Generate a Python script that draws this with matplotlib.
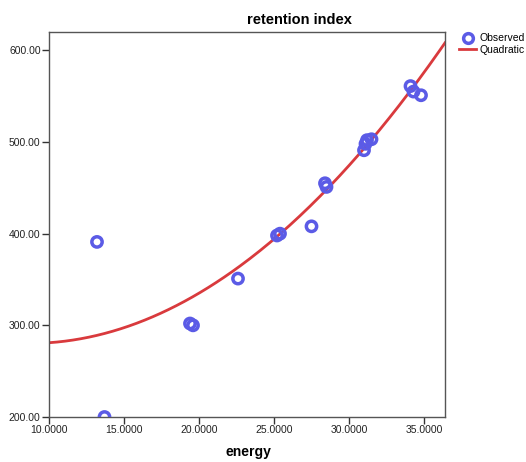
import numpy as np
import matplotlib
matplotlib.use("Agg")
from matplotlib import pyplot as plt
from matplotlib.lines import Line2D

plt.rcParams['font.family'] = ['Liberation Sans', 'DejaVu Sans']

energy = [13.2, 13.7, 19.4, 19.6, 22.6, 25.2, 25.4, 27.5, 28.4, 28.5,
          31.0, 31.1, 31.2, 31.5, 34.1, 34.3, 34.8]
retention = [391, 200, 302, 300, 351, 398, 400, 408, 455, 451,
             491, 498, 502, 503, 561, 555, 551]

# quadratic curve coefficients (a*x^2 + b*x + c), read from the drawn fit
quad_coef = [0.4258, -7.366, 312.1]

x_ticks = [10, 15, 20, 25, 30, 35]
y_ticks = [200, 300, 400, 500, 600]

fig = plt.figure(figsize=(5.26, 4.62), dpi=100)
ax = fig.add_axes([49 / 526, 1 - 417 / 462, 396 / 526, 385 / 462])

xs = np.linspace(10, 36.4, 200)
ax.plot(xs, np.polyval(quad_coef, xs), color='#d93a3d', lw=2, zorder=2)

ax.scatter(energy, retention, s=55, facecolors='none', edgecolors='#5b5be6',
           linewidths=2.5, zorder=3)

ax.set_xlim(10, 36.4)
ax.set_ylim(200, 620)
ax.set_xticks(x_ticks)
ax.set_yticks(y_ticks)
ax.set_xticklabels(['%.4f' % v for v in x_ticks])
ax.set_yticklabels(['%.2f' % v for v in y_ticks])
ax.tick_params(labelsize=7.5, length=5, width=1, color='#333333', labelcolor='#222222', pad=1)
for s in ax.spines.values():
    s.set_color('#555555')
    s.set_linewidth(1)

fig.text(299 / 526, 1 - 20 / 462, 'retention index', ha='center', va='center',
         fontsize=10.5, fontweight='bold')
fig.text(248 / 526, 1 - 452 / 462, 'energy', ha='center', va='center',
         fontsize=10, fontweight='bold')

handles = [Line2D([], [], ls='none', marker='o', markersize=7, markerfacecolor='none',
                  markeredgecolor='#5b5be6', markeredgewidth=2.5),
           Line2D([], [], color='#d93a3d', lw=2)]
fig.legend(handles, ['Observed', 'Quadratic'], loc='upper left',
           bbox_to_anchor=(454 / 526, 1 - 28 / 462), frameon=False, fontsize=7.5,
           handlelength=1.6, handletextpad=0.3, labelspacing=0.15, borderpad=0)

fig.savefig('out.png', dpi=100)
